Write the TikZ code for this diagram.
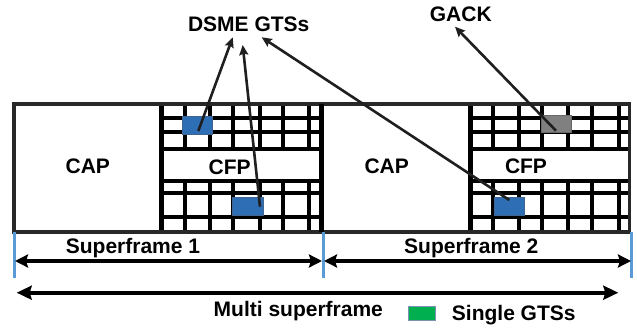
\documentclass[tikz,border=0pt]{standalone}
\usepackage{fontspec}
\setmainfont{Liberation Sans}
\usetikzlibrary{arrows.meta}
\definecolor{gtsblue}{RGB}{46,110,180}
\definecolor{gtsblueedge}{RGB}{66,100,145}
\definecolor{gackgray}{RGB}{128,128,128}
\definecolor{gackedge}{RGB}{105,105,105}
\definecolor{tickblue}{RGB}{91,155,213}
\definecolor{legendgreen}{RGB}{0,176,80}
\definecolor{framegray}{RGB}{40,40,40}
\begin{document}
\begin{tikzpicture}[x=1pt,y=-1pt,
  lbl/.style={font=\fontsize{21}{21}\selectfont\bfseries, inner sep=0pt, anchor=base},
  gridline/.style={line width=4.2pt, black},
  framel/.style={line width=3.4pt, framegray},
  slot/.style={draw=gtsblueedge, fill=gtsblue, line width=1pt, inner sep=0pt},
  ackslot/.style={draw=gackedge, fill=gackgray, line width=1pt, inner sep=0pt},
  tick/.style={line width=3pt, tickblue},
  pointer/.style={line width=2.6pt, black!88, -{Stealth[length=10pt,width=9pt,inset=1.5pt]}},
  span/.style={line width=3.6pt, black, {Stealth[length=13pt,width=13pt,inset=2pt]}-{Stealth[length=13pt,width=13pt,inset=2pt]}},
  bigspan/.style={line width=4pt, black, {Stealth[length=15pt,width=14pt,inset=2pt]}-{Stealth[length=15pt,width=14pt,inset=2pt]}}
]
\useasboundingbox (0,0) rectangle (637,327);

% ---------- Superframe 1 grid ----------
\foreach \x in {185,210,233,260,283,309} {
  \draw[gridline] (\x,104) -- (\x,148.8);
  \draw[gridline] (\x,181.2) -- (\x,232);
}
\foreach \y in {118.3,131.7,148.8,181.2,193,217} {
  \draw[gridline] (161.5,\y) -- (321.5,\y);
}
\draw[gridline] (161.5,104) -- (161.5,232);
% ---------- Superframe 2 grid ----------
\foreach \x in {493.3,519.3,541.7,568.3,591.7,619} {
  \draw[gridline] (\x,104) -- (\x,148.8);
  \draw[gridline] (\x,181.2) -- (\x,232);
}
\foreach \y in {118.3,131.7,148.8,181.2,193,217} {
  \draw[gridline] (470.5,\y) -- (629.5,\y);
}
\draw[gridline] (470.5,104) -- (470.5,232);

% ---------- outer frames ----------
\draw[framel, line join=miter] (14,104) rectangle (322,232);
\draw[framel, line join=miter] (322,104) rectangle (629.5,232);
\draw[gridline] (321.5,104) -- (321.5,232);

% ---------- slots ----------
\node[slot, minimum width=30pt, minimum height=17.6pt] (blue1) at (197.7,125.5) {};
\node[slot, minimum width=31pt, minimum height=18pt] (blue2) at (247.5,206.5) {};
\node[slot, minimum width=30pt, minimum height=18.3pt] (blue3) at (509,206.8) {};
\node[ackslot, minimum width=30pt, minimum height=17.7pt] (gray1) at (556,123.9) {};

% ---------- labels in frames ----------
\node[lbl] (cap1) at (87.8,173.3) {CAP};
\node[lbl] (cfp1) at (229.7,174.3) {CFP};
\node[lbl] (cap2) at (386.7,173.3) {CAP};
\node[lbl] (cfp2) at (526,173.8) {CFP};

% ---------- top labels and pointers ----------
\node[lbl] (dsme) at (248.7,31.7) {DSME GTSs};
\node[lbl] (gack) at (460.8,21.7) {GACK};
\coordinate (p1s) at (198.3,131);
\coordinate (p1t) at (232.7,37.3);
\coordinate (p2s) at (260,206.7);
\coordinate (p2t) at (242.7,45);
\coordinate (p3s) at (509.3,200);
\coordinate (p3t) at (261.7,37.3);
\coordinate (p4s) at (556,130.7);
\coordinate (p4t) at (455,26.7);
\draw[pointer] (p1s) -- (p1t);
\draw[pointer] (p2s) -- (p2t);
\draw[pointer] (p3s) -- (p3t);
\draw[pointer] (p4s) -- (p4t);

% ---------- ticks and spans ----------
\coordinate (t1a) at (14,232);   \coordinate (t1b) at (14,278);
\coordinate (t2a) at (323,232);  \coordinate (t2b) at (323,278);
\coordinate (t3a) at (631,232);  \coordinate (t3b) at (631,278);
\draw[tick] (t1a) -- (t1b);
\draw[tick] (t2a) -- (t2b);
\draw[tick] (t3a) -- (t3b);
\coordinate (s1l) at (15,261);  \coordinate (s1r) at (322,261);
\coordinate (s2l) at (324,261); \coordinate (s2r) at (631,261);
\draw[span] (s1l) -- (s1r);
\draw[span] (s2l) -- (s2r);
\node[lbl] (sf1) at (133,253.5) {Superframe 1};
\node[lbl] (sf2) at (471.3,253.5) {Superframe 2};

\coordinate (ml) at (16.7,292.7); \coordinate (mr) at (618.3,292.7);
\draw[bigspan] (ml) -- (mr);
\node[lbl] (multi) at (298.3,316.7) {Multi superframe};

% ---------- legend ----------
\node[draw=gtsblueedge!70, fill=legendgreen, line width=0.8pt, inner sep=0pt,
      minimum width=26.7pt, minimum height=14pt] (legbox) at (421.7,313.7) {};
\node[lbl, anchor=base west] (legtext) at (451.7,320) {Single GTSs};
\end{tikzpicture}
\end{document}
